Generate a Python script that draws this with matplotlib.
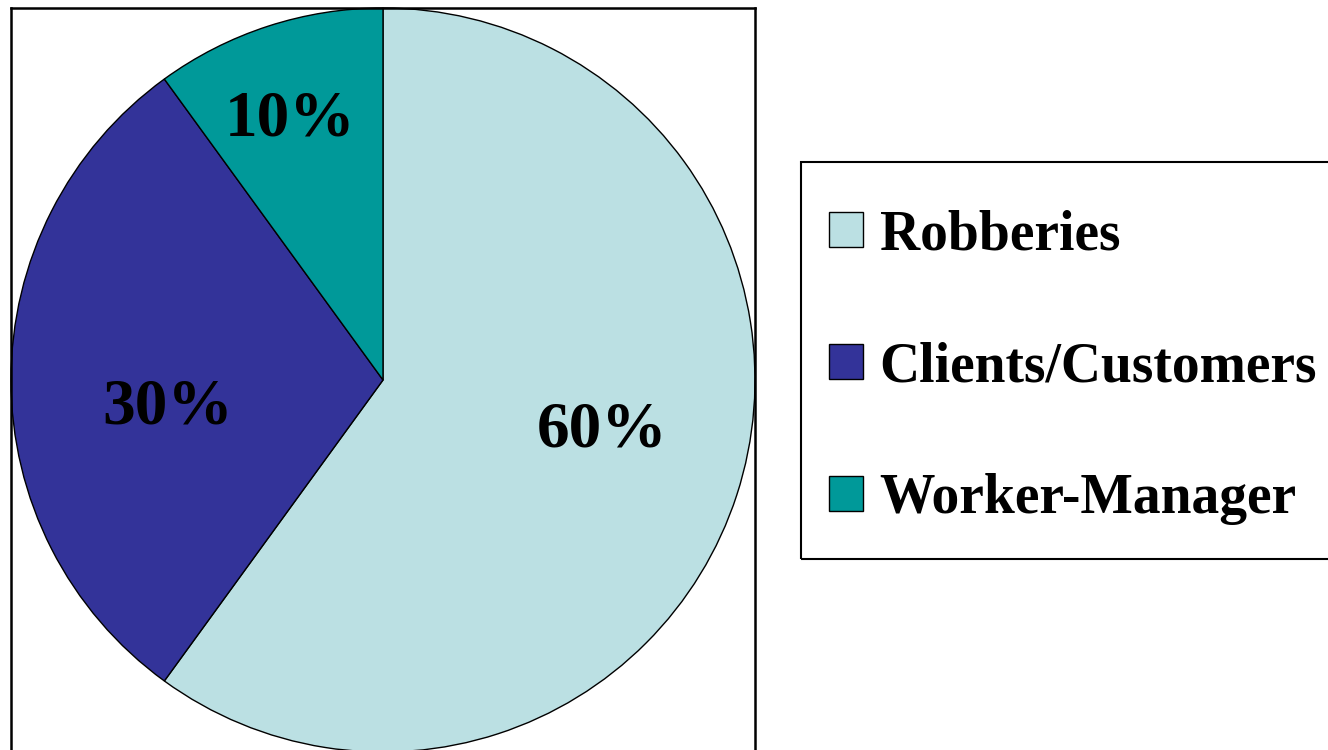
import matplotlib.pyplot as plt
from matplotlib.patches import Rectangle

labels = ["Robberies", "Clients/Customers", "Worker-Manager"]
shares = [60, 30, 10]
colors = ["#BBE0E3", "#333399", "#009999"]

# label centres, in units of pie radius
label_pos = [(0.59, -0.135), (-0.578, -0.075), (-0.25, 0.70)]

plt.rcParams["font.family"] = ["Liberation Serif", "DejaVu Serif"]
plt.rcParams["font.weight"] = "bold"

fig = plt.figure(figsize=(13.28, 7.5), dpi=100)
W, H = 1328, 750

# pie axes: square 744 px, top edge at 8 px
ax = fig.add_axes([11 / W, (H - 8 - 744) / H, 744 / W, 744 / H])
wedges, _ = ax.pie(shares, colors=colors, startangle=90, counterclock=False,
                   frame=True,
                   wedgeprops=dict(edgecolor="black", linewidth=1.0))
ax.set_xlim(-1, 1)
ax.set_ylim(-1, 1)
ax.set_aspect("equal")
ax.set_xticks([])
ax.set_yticks([])
for w in wedges:
    w.set_clip_on(False)
for s in ax.spines.values():
    s.set_linewidth(1.8)
    s.set_color("black")

for share, (x, y) in zip(shares, label_pos):
    ax.text(x, y, f"{share}%", ha="center", va="center",
            fontsize=47, fontweight="bold")

# legend box
fig.patches.append(Rectangle((801 / W, 1 - 559 / H), 560 / W, 397 / H,
                             transform=fig.transFigure, fill=False,
                             edgecolor="black", linewidth=1.5))

leg = fig.legend(wedges, labels, loc="upper left",
                 bbox_to_anchor=(829 / W, 1 - 209 / H),
                 frameon=False,
                 prop=dict(family="Liberation Serif", weight="bold", size=40),
                 handlelength=0.61, handleheight=0.61, handletextpad=0.3,
                 labelspacing=1.44, borderpad=0, borderaxespad=0)

fig.savefig("out.png", dpi=100)
